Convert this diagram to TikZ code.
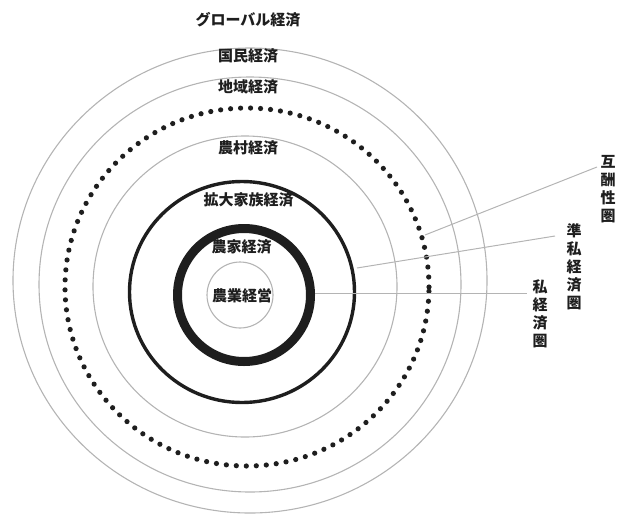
\documentclass[tikz,border=0pt]{standalone}
\usepackage{fontspec}
\setmainfont{Noto Sans CJK JP}
\definecolor{thin}{HTML}{B4B4B4}
\definecolor{ink}{HTML}{1E1E1E}
\begin{document}
\begin{tikzpicture}[x=1pt,y=-1pt,
  thinring/.style={draw=thin,line width=1.1pt},
  dotring/.style={draw=ink,line width=5.2pt,line cap=round,dash pattern=on 0pt off 10pt},
  lbl/.style={inner sep=0pt,text=ink,font=\fontsize{15}{18}\selectfont\bfseries},
  vlbl/.style={lbl,align=center},
  leader/.style={draw=thin,line width=1pt}]
\useasboundingbox (0,0) rectangle (617,514);
% rings
\draw[thinring] (250,280.5) ellipse [x radius=237pt, y radius=232.5pt];
\draw[thinring] (250,284.5) ellipse [x radius=211pt, y radius=207.5pt];
\draw[dotring] (247,287) ellipse [x radius=182pt, y radius=179pt];
\draw[thinring] (245,286.5) ellipse [x radius=152pt, y radius=150.5pt];
\draw[draw=ink,line width=3.4pt] (242,292) ellipse [x radius=112.5pt, y radius=110.5pt];
\draw[draw=ink,line width=9pt] (244,295) ellipse [x radius=66.5pt, y radius=66.5pt];
\draw[thinring] (240,295) circle [radius=33pt];
% ring labels
\node[lbl] (global) at (248,20) {グローバル経済};
\node[lbl] (kokumin) at (248,56) {国民経済};
\node[lbl] (chiiki) at (248,87) {地域経済};
\node[lbl] (noson) at (248,148) {農村経済};
\node[lbl] (kakudai) at (248.5,200) {拡大家族経済};
\node[lbl] (noka) at (241.5,247) {農家経済};
\node[lbl] (nogyo) at (242,296) {農業経営};
% side labels
\node[vlbl] (gosho) at (608,189) {互\\酬\\性\\圏};
\node[vlbl] (junshi) at (574,266.5) {準\\私\\経\\済\\圏};
\node[vlbl] (shi) at (540,314) {私\\経\\済\\圏};
% leader ends
\coordinate (a1) at (425,235);
\coordinate (a2) at (597,167);
\coordinate (b1) at (357,268);
\coordinate (b2) at (555,236);
\coordinate (c1) at (315,293);
\coordinate (c2) at (527,293);
\draw[leader] (a1) -- (a2);
\draw[leader] (b1) -- (b2);
\draw[leader] (c1) -- (c2);
\end{tikzpicture}
\end{document}
